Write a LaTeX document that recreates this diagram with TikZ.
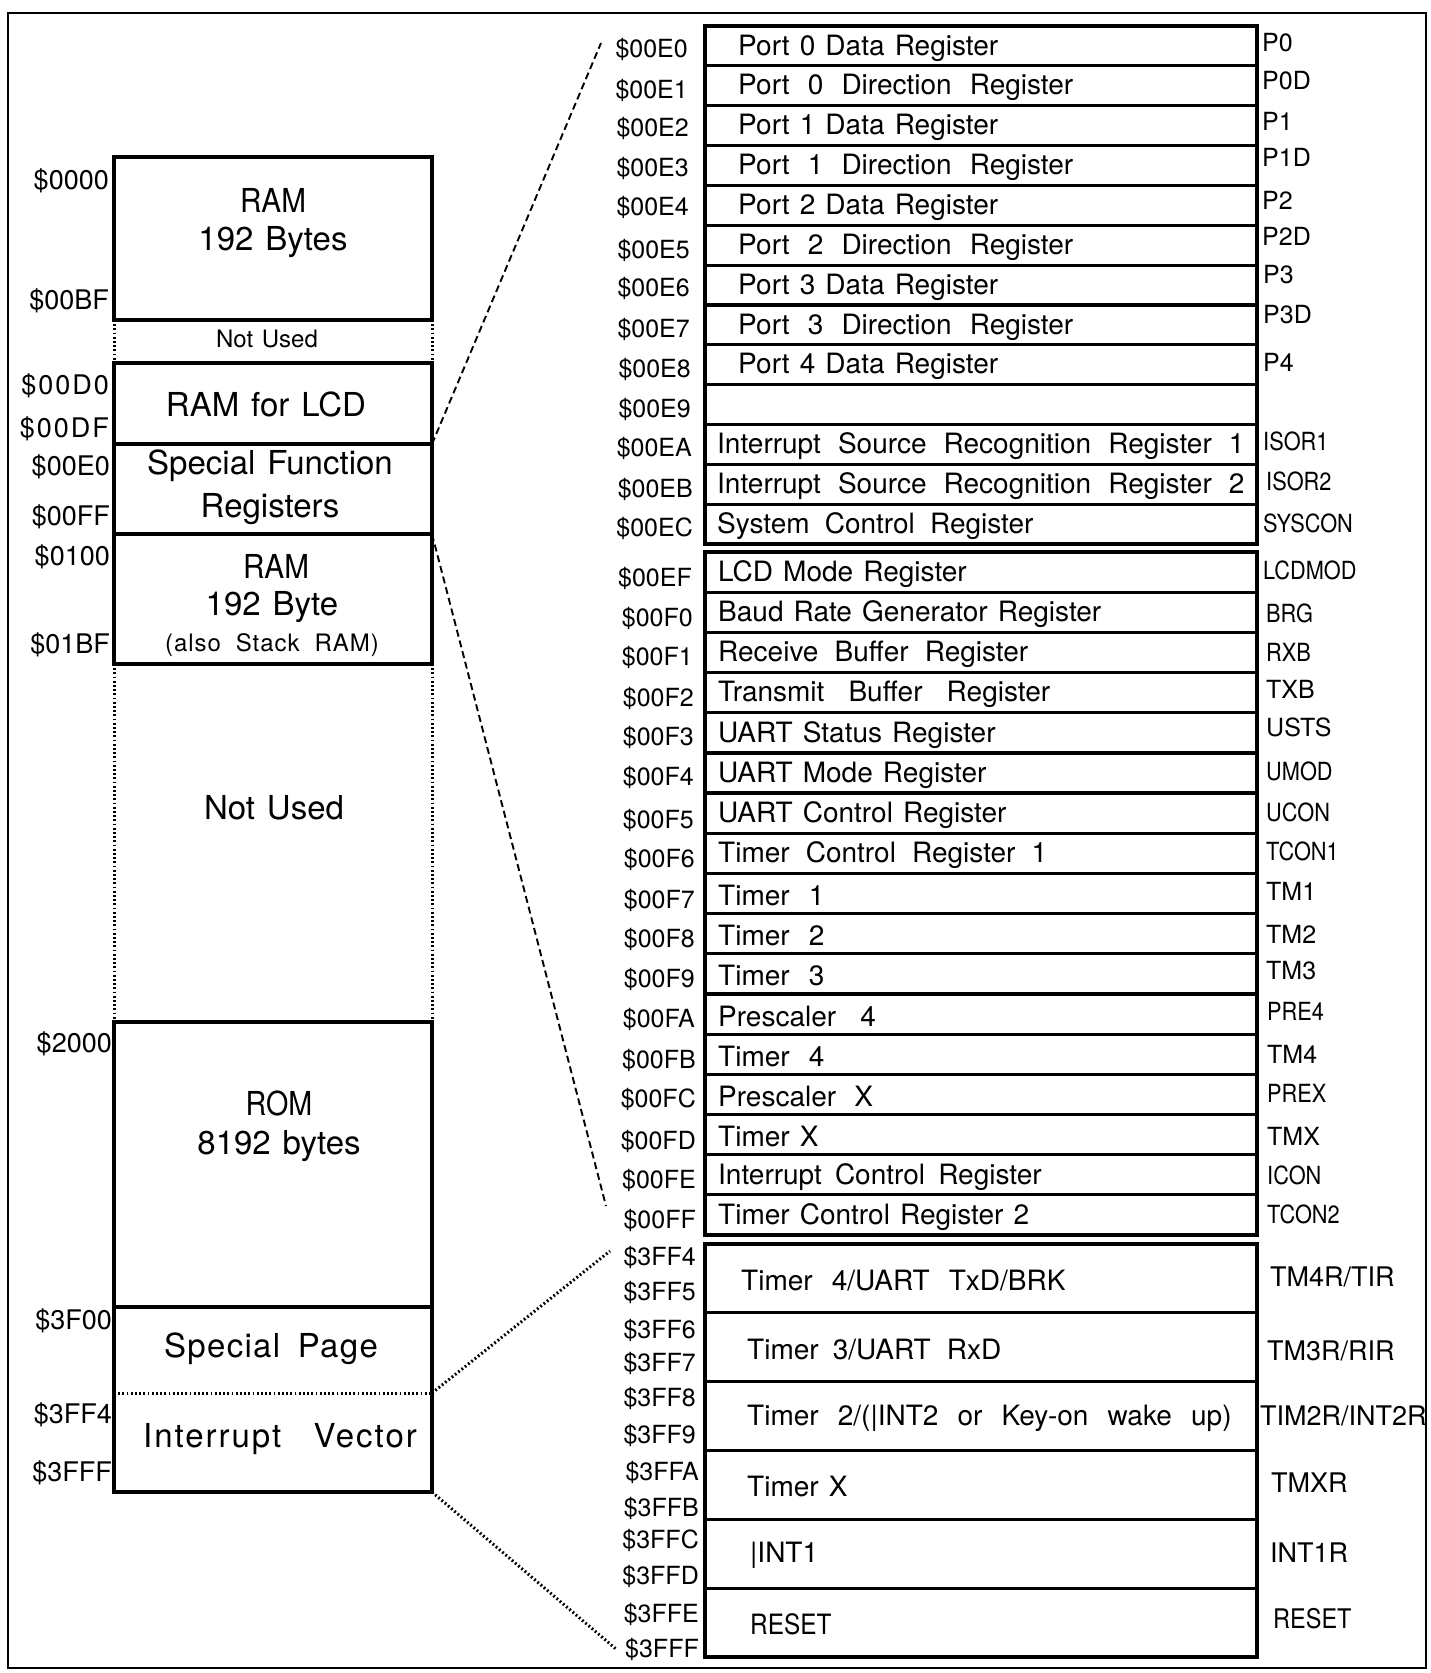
\documentclass[tikz,border=0pt]{standalone}
\usepackage{fontspec}
\setmainfont[WordSpace=1.3]{TeX Gyre Heros}
\newcommand{\cnd}[1]{\scalebox{0.87}[1]{#1}}
\newcommand{\cndb}[1]{\scalebox{0.9}[1]{#1}}
\newcommand{\regrow}[5]{%
  \node[box, minimum width=552pt, minimum height=#3pt] (#1) at (705,#2) {};
  \node[rt] (#1t) at ([xshift=#4pt, yshift=-2pt]#1.west) {#5};}
\begin{document}
\begin{tikzpicture}[x=1pt,y=-1pt,
  box/.style={draw, line width=3.2pt, inner sep=0pt, outer sep=0pt, anchor=north west},
  big/.style={font=\fontsize{33}{38}\selectfont, inner sep=0pt},
  wide/.style={font=\fontsize{33}{38}\selectfont\addfontfeature{LetterSpace=6}, inner sep=0pt},
  widen/.style={font=\fontsize{33}{38}\selectfont\addfontfeature{LetterSpace=4}, inner sep=0pt},
  small/.style={font=\fontsize{24}{28}\selectfont, inner sep=0pt},
  smallw/.style={font=\fontsize{24}{28}\selectfont\addfontfeature{LetterSpace=4}, inner sep=0pt},
  addr/.style={font=\fontsize{25}{28}\selectfont, inner sep=0pt, anchor=east},
  laddr/.style={font=\fontsize{27}{30}\selectfont, inner sep=0pt, anchor=east},
  abbr/.style={font=\fontsize{25}{28}\selectfont, inner sep=0pt, anchor=west},
  abbrb/.style={font=\fontsize{27}{30}\selectfont, inner sep=0pt, anchor=west},
  rt/.style={font=\fontsize{28}{32}\selectfont, inner sep=0pt, anchor=west},
  dashc/.style={line width=1.9pt, dash pattern=on 7pt off 4pt},
  dotc/.style={line width=3pt, dash pattern=on 1.8pt off 2.4pt},
]
\useasboundingbox (0,0) rectangle (1430,1673);
\draw[line width=2.6pt] (8,13) rectangle (1426,1668);

% ---------------- left memory map ----------------
\node[box, minimum width=318pt, minimum height=163pt] (ram1) at (114,157) {};
\node[big] (ram1a) at (273,200) {\cndb{RAM}};
\node[big] (ram1b) at (273,242) {192 Bytes};
\node[small] (nu1) at (267,339) {Not Used};
\node[box, minimum width=318pt, minimum height=81pt] (lcd) at (114,363) {};
\node[big] (lcdt) at (266,404) {RAM for LCD};
\node[box, minimum width=318pt, minimum height=90pt] (sfr) at (114,444) {};
\node[big] (sfra) at (270,466) {Special Function};
\node[big] (sfrb) at (270,509) {Registers};
\node[box, minimum width=318pt, minimum height=130pt] (ram2) at (114,534) {};
\node[big] (ram2a) at (276,566) {\cndb{RAM}};
\node[big] (ram2b) at (272,607) {192 Byte};
\node[smallw] (ram2c) at (272,645) {(also \hspace{5pt}Stack \hspace{5pt}RAM)};
\node[big] (nu2) at (274,808) {Not Used};
\node[box, minimum width=318pt, minimum height=285pt] (rom) at (114,1022) {};
\node[big] (roma) at (279,1103) {\cnd{ROM}};
\node[big] (romb) at (279,1146) {8192 bytes};
\node[box, minimum width=318pt, minimum height=185pt] (spv) at (114,1307) {};
\node[widen] (spt) at (271,1349) {Special \hspace{4pt}Page};
\node[wide] (ivt) at (280,1439) {Interrupt \hspace{18pt}Vector};
\coordinate (spl) at (114,1393);
\coordinate (spr) at (432,1393);

\draw[dotc] (ram1.south west) -- (lcd.north west);
\draw[dotc] (ram1.south east) -- (lcd.north east);
\draw[dotc] (ram2.south west) -- (rom.north west);
\draw[dotc] (ram2.south east) -- (rom.north east);
\draw[dotc] (spl) -- (spr);

\node[laddr] (la1) at (109,181) {\$0000};
\node[laddr] (la2) at (109,301) {\$00BF};
\node[laddr] (la3) at (109,386) {\$\hspace{2pt}0\hspace{2pt}0\hspace{2pt}D\hspace{2pt}0};
\node[laddr] (la4) at (109,429) {\$\hspace{2pt}0\hspace{2pt}0\hspace{2pt}D\hspace{2pt}F};
\node[laddr] (la5) at (110,467) {\$00E0};
\node[laddr] (la6) at (110,517) {\$00FF};
\node[laddr] (la7) at (110,557) {\$0100};
\node[laddr] (la8) at (110,645) {\$01BF};
\node[laddr] (la9) at (112,1044) {\$2000};
\node[laddr] (la10) at (112,1321) {\$3F00};
\node[laddr] (la11) at (112,1415) {\$3FF4};
\node[laddr] (la12) at (112,1473) {\$3FFF};

% ---------------- right register table ----------------
\regrow{g1}{26}{39.85}{33}{Port 0 Data Register}
\regrow{g2}{65.85}{39.85}{33}{Port \hspace{8pt}0 \hspace{8pt}Direction \hspace{8pt}Register}
\regrow{g3}{105.7}{39.85}{33}{Port 1 Data Register}
\regrow{g4}{145.55}{39.85}{33}{Port \hspace{8pt}1 \hspace{8pt}Direction \hspace{8pt}Register}
\regrow{g5}{185.4}{39.85}{33}{Port 2 Data Register}
\regrow{g6}{225.25}{39.85}{33}{Port \hspace{8pt}2 \hspace{8pt}Direction \hspace{8pt}Register}
\regrow{g7}{265.1}{39.85}{33}{Port 3 Data Register}
\regrow{g8}{304.95}{39.85}{33}{Port \hspace{8pt}3 \hspace{8pt}Direction \hspace{8pt}Register}
\regrow{g9}{344.8}{39.85}{33}{Port 4 Data Register}
\regrow{g10}{384.65}{39.85}{33}{}
\regrow{g11}{424.5}{39.85}{12}{Interrupt \hspace{7pt}Source \hspace{7pt}Recognition \hspace{7pt}Register \hspace{7pt}1}
\regrow{g12}{464.35}{39.85}{12}{Interrupt \hspace{7pt}Source \hspace{7pt}Recognition \hspace{7pt}Register \hspace{7pt}2}
\regrow{g13}{504.2}{39.85}{12}{System \hspace{5pt}Control \hspace{5pt}Register}

\regrow{h1}{552}{40.18}{13}{LCD Mode Register}
\regrow{h2}{592.18}{40.18}{13}{Baud Rate Generator Register}
\regrow{h3}{632.36}{40.18}{13}{Receive \hspace{6pt}Buffer \hspace{6pt}Register}
\regrow{h4}{672.54}{40.18}{13}{Transmit \hspace{14pt}Buffer \hspace{14pt}Register}
\regrow{h5}{712.72}{40.18}{13}{UART Status Register}
\regrow{h6}{752.9}{40.18}{13}{UART Mode Register}
\regrow{h7}{793.08}{40.18}{13}{UART Control Register}
\regrow{h8}{833.26}{40.18}{13}{Timer \hspace{6pt}Control \hspace{6pt}Register \hspace{6pt}1}
\regrow{h9}{873.44}{40.18}{13}{Timer \hspace{9pt}1}
\regrow{h10}{913.62}{40.18}{13}{Timer \hspace{9pt}2}
\regrow{h11}{953.8}{40.18}{13}{Timer \hspace{9pt}3}
\regrow{h12}{993.98}{40.18}{13}{Prescaler \hspace{14pt}4}
\regrow{h13}{1034.16}{40.18}{13}{Timer \hspace{9pt}4}
\regrow{h14}{1074.34}{40.18}{13}{Prescaler \hspace{8pt}X}
\regrow{h15}{1114.52}{40.18}{13}{Timer X}
\regrow{h16}{1154.7}{40.18}{13}{Interrupt \hspace{3pt}Control \hspace{3pt}Register}
\regrow{h17}{1194.88}{40.18}{13}{Timer Control Register 2}

\regrow{v1}{1244}{68.83}{36}{Timer \hspace{9pt}4/UART \hspace{9pt}TxD/BRK}
\regrow{v2}{1312.83}{68.83}{42}{Timer \hspace{4pt}3/UART \hspace{6pt}RxD}
\regrow{v3}{1381.66}{68.83}{42}{Timer \hspace{9pt}2/(|INT2 \hspace{9pt}or \hspace{9pt}Key-on \hspace{9pt}wake \hspace{9pt}up)}
\regrow{v4}{1450.49}{68.83}{42}{Timer X}
\regrow{v5}{1519.32}{68.83}{45}{|INT1}
\regrow{v6}{1588.15}{68.83}{45}{\cnd{RESET}}

% addresses of the register table
\node[addr] (ra1) at (688,49) {\$00E0};
\node[addr] (ra2) at (688,90) {\$00E1};
\node[addr] (ra3) at (689,128) {\$00E2};
\node[addr] (ra4) at (689,168) {\$00E3};
\node[addr] (ra5) at (689,207) {\$00E4};
\node[addr] (ra6) at (690,250) {\$00E5};
\node[addr] (ra7) at (690,288) {\$00E6};
\node[addr] (ra8) at (690,329) {\$00E7};
\node[addr] (ra9) at (691,369) {\$00E8};
\node[addr] (ra10) at (691,409) {\$00E9};
\node[addr] (ra11) at (692,448) {\$00EA};
\node[addr] (ra12) at (693,489) {\$00EB};
\node[addr] (ra13) at (693,528) {\$00EC};
\node[addr] (ra14) at (692,578) {\$00EF};
\node[addr] (ra15) at (693,618) {\$00F0};
\node[addr] (ra16) at (693,657) {\$00F1};
\node[addr] (ra17) at (694,698) {\$00F2};
\node[addr] (ra18) at (694,737) {\$00F3};
\node[addr] (ra19) at (694,777) {\$00F4};
\node[addr] (ra20) at (694,820) {\$00F5};
\node[addr] (ra21) at (695,859) {\$00F6};
\node[addr] (ra22) at (695,900) {\$00F7};
\node[addr] (ra23) at (695,939) {\$00F8};
\node[addr] (ra24) at (695,979) {\$00F9};
\node[addr] (ra25) at (695,1019) {\$00FA};
\node[addr] (ra26) at (696,1060) {\$00FB};
\node[addr] (ra27) at (696,1099) {\$00FC};
\node[addr] (ra28) at (696,1141) {\$00FD};
\node[addr] (ra29) at (696,1180) {\$00FE};
\node[addr] (ra30) at (696,1220) {\$00FF};
\node[addr] (rb1) at (696,1257) {\$3FF4};
\node[addr] (rb2) at (696,1292) {\$3FF5};
\node[addr] (rb3) at (696,1330) {\$3FF6};
\node[addr] (rb4) at (696,1363) {\$3FF7};
\node[addr] (rb5) at (696,1398) {\$3FF8};
\node[addr] (rb6) at (696,1435) {\$3FF9};
\node[addr] (rb7) at (699,1472) {\$3FFA};
\node[addr] (rb8) at (699,1508) {\$3FFB};
\node[addr] (rb9) at (699,1540) {\$3FFC};
\node[addr] (rb10) at (699,1576) {\$3FFD};
\node[addr] (rb11) at (699,1614) {\$3FFE};
\node[addr] (rb12) at (699,1649) {\$3FFF};

% register abbreviations
\node[abbr] (n1) at (1262,43) {P0};
\node[abbr] (n2) at (1262,81) {P0D};
\node[abbr] (n3) at (1262,121) {P1};
\node[abbr] (n4) at (1262,157) {P1D};
\node[abbr] (n5) at (1262,200) {P2};
\node[abbr] (n6) at (1262,236) {P2D};
\node[abbr] (n7) at (1263,275) {P3};
\node[abbr] (n8) at (1263,315) {P3D};
\node[abbr] (n9) at (1263,362) {P4};
\node[abbr] (n11) at (1263,441) {\cnd{ISOR1}};
\node[abbr] (n12) at (1266,481) {\cnd{ISOR2}};
\node[abbr] (n13) at (1263,523) {\cnd{SYSCON}};
\node[abbr] (m1) at (1263,570) {\cnd{LCDMOD}};
\node[abbr] (m2) at (1266,613) {\cnd{BRG}};
\node[abbr] (m3) at (1266,652) {\cnd{RXB}};
\node[abbr] (m4) at (1266,689) {TXB};
\node[abbr] (m5) at (1266,727) {USTS};
\node[abbr] (m6) at (1266,771) {\cnd{UMOD}};
\node[abbr] (m7) at (1266,812) {\cnd{UCON}};
\node[abbr] (m8) at (1266,851) {\cnd{TCON1}};
\node[abbr] (m9) at (1266,891) {TM1};
\node[abbr] (m10) at (1266,934) {TM2};
\node[abbr] (m11) at (1266,971) {TM3};
\node[abbr] (m12) at (1267,1011) {\cnd{PRE4}};
\node[abbr] (m13) at (1267,1054) {TM4};
\node[abbr] (m14) at (1267,1093) {\cnd{PREX}};
\node[abbr] (m15) at (1267,1136) {TMX};
\node[abbr] (m16) at (1267,1175) {\cnd{ICON}};
\node[abbr] (m17) at (1267,1214) {\cnd{TCON2}};
\node[abbrb] (w1) at (1270,1277) {TM4R/TIR};
\node[abbrb] (w2) at (1267,1351) {TM3R/RIR};
\node[abbrb] (w3) at (1260,1416) {TIM2R/INT2R};
\node[abbrb] (w4) at (1271,1483) {TMXR};
\node[abbrb] (w5) at (1270,1553) {INT1R};
\node[abbrb] (w6) at (1273,1619) {\cnd{RESET}};

% ---------------- connectors ----------------
\coordinate (e1) at (601,43);
\coordinate (e2) at (606,1206);
\coordinate (e3) at (610,1251);
\coordinate (e4) at (616,1649);
\draw[dashc] (sfr.north east) -- (e1);
\draw[dashc] (sfr.south east) -- (e2);
\draw[dotc] (spr) -- (e3);
\draw[dotc] (spv.south east) -- (e4);
\end{tikzpicture}
\end{document}
